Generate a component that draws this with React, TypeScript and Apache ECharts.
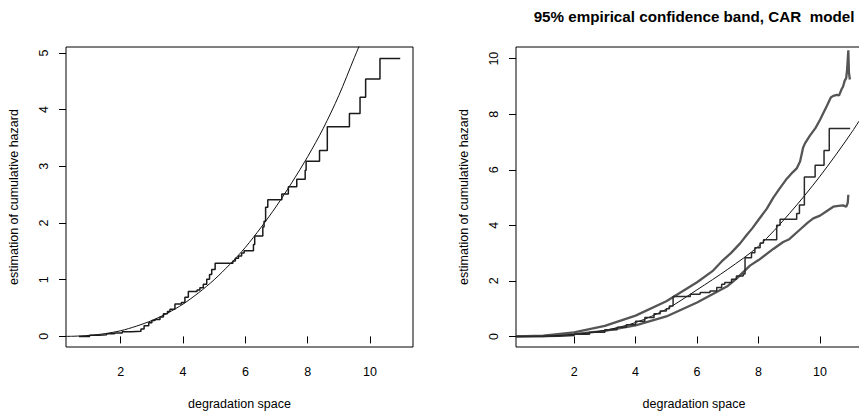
import React, { useEffect, useRef } from "react";
import * as echarts from "echarts";

// ---------- data ----------
// Left panel: empirical cumulative hazard (step function, jump points)
const leftStepX = [0.66, 1.0, 1.3, 1.55, 1.8, 2.05, 2.35, 2.65, 2.75, 2.9, 3.0, 3.1, 3.26, 3.37, 3.5, 3.58, 3.74, 3.95, 4.06, 4.17, 4.45, 4.54, 4.65, 4.76, 4.85, 4.92, 5.03, 5.6, 5.68, 5.78, 5.88, 5.96, 6.26, 6.3, 6.56, 6.6, 6.65, 6.72, 7.17, 7.38, 7.65, 7.92, 7.95, 8.38, 8.63, 9.34, 9.68, 9.86, 10.32, 10.97];
const leftStepY = [0, 0.02, 0.03, 0.045, 0.06, 0.08, 0.09, 0.13, 0.19, 0.24, 0.28, 0.3, 0.34, 0.4, 0.44, 0.48, 0.57, 0.6, 0.69, 0.79, 0.82, 0.86, 0.92, 1.01, 1.09, 1.18, 1.29, 1.33, 1.38, 1.42, 1.47, 1.51, 1.62, 1.77, 1.93, 2.03, 2.28, 2.41, 2.51, 2.64, 2.77, 2.93, 3.09, 3.28, 3.7, 3.93, 4.22, 4.54, 4.9, 4.9];
// Left panel: fitted (smooth) cumulative hazard
const leftFitX = [0.24, 0.5, 1, 1.5, 2, 2.5, 3, 3.5, 4, 4.5, 5, 5.5, 6, 6.5, 7, 7.5, 8, 8.5, 9, 9.5, 9.75];
const leftFitY = [0.0005, 0.003, 0.018, 0.049, 0.1, 0.18, 0.28, 0.41, 0.57, 0.77, 1.0, 1.27, 1.57, 1.92, 2.3, 2.72, 3.17, 3.67, 4.25, 4.92, 5.25];

// Right panel: empirical cumulative hazard (step function)
const rightStepX = [0.11, 1, 1.5, 2, 2.5, 3, 3.4, 3.7, 4, 4.3, 4.6, 4.8, 5.0, 5.1, 5.22, 5.78, 6.1, 6.42, 6.64, 6.8, 6.9, 7.12, 7.28, 7.5, 7.56, 7.77, 7.88, 8.05, 8.16, 8.59, 8.7, 9.24, 9.33, 9.49, 9.84, 10.13, 10.3, 10.98];
const rightStepY = [0, 0.01, 0.03, 0.08, 0.15, 0.24, 0.33, 0.42, 0.55, 0.68, 0.82, 0.92, 1.0, 1.1, 1.44, 1.52, 1.58, 1.64, 1.76, 1.88, 1.94, 2.06, 2.18, 2.25, 2.83, 3.01, 3.19, 3.36, 3.48, 4.0, 4.22, 4.43, 4.73, 5.74, 6.16, 6.69, 7.49, 7.49];
// Right panel: fitted curve
const rightFitX = [0.11, 1, 2, 3, 4, 5, 6, 7, 8, 9, 10, 11, 11.7];
const rightFitY = [0, 0.01, 0.07, 0.22, 0.5, 0.98, 1.68, 2.42, 3.25, 4.42, 5.77, 7.3, 8.5];
// Right panel: 95% band, upper and lower
const upperX = [0.11, 1, 2, 3, 4, 5, 6, 6.5, 6.8, 7.1, 7.4, 7.62, 7.8, 8.0, 8.27, 8.48, 8.7, 8.92, 9.1, 9.24, 9.35, 9.45, 9.51, 9.67, 9.85, 10.0, 10.22, 10.35, 10.43, 10.55, 10.62, 10.7, 10.75, 10.8, 10.85, 10.88, 10.92, 10.94, 10.97];
const upperY = [0, 0.03, 0.15, 0.38, 0.75, 1.27, 1.95, 2.35, 2.7, 3.0, 3.35, 3.66, 3.9, 4.2, 4.6, 5.0, 5.35, 5.68, 5.9, 6.05, 6.3, 6.8, 6.95, 7.23, 7.5, 7.8, 8.3, 8.6, 8.66, 8.7, 8.68, 8.9, 9.0, 9.2, 9.3, 9.6, 10.3, 9.5, 9.25];
const lowerX = [0.11, 1, 2, 3, 4, 5, 6, 7, 7.3, 7.72, 8.0, 8.48, 8.8, 9.0, 9.35, 9.6, 9.78, 10.0, 10.2, 10.43, 10.6, 10.75, 10.85, 10.9, 10.92];
const lowerY = [0, 0.01, 0.08, 0.2, 0.4, 0.72, 1.22, 1.82, 2.1, 2.55, 2.75, 3.15, 3.4, 3.5, 3.85, 4.1, 4.25, 4.35, 4.5, 4.67, 4.7, 4.72, 4.67, 4.8, 5.1];

const xTicks = [2, 4, 6, 8, 10];
const leftYTicks = [0, 1, 2, 3, 4, 5];
const rightYTicks = [0, 2, 4, 6, 8, 10];

const titleText = "95% empirical confidence band, CAR  model";
const xName = "degradation space";
const yName = "estimation of cumulative hazard";

const pairs = (xs: number[], ys: number[]) => xs.map((x, i) => [x, ys[i]]);

const FONT = "Liberation Sans, Arial, Helvetica, sans-serif";

export default function App() {
  const ref = useRef<HTMLDivElement>(null);
  useEffect(() => {
    if (!ref.current) return;
    const chart = echarts.init(ref.current, undefined, { renderer: "svg" });

    const xAxisBase = (gridIndex: number, min: number, max: number) => ({
      type: "value",
      gridIndex,
      min,
      max,
      name: xName,
      nameLocation: "middle",
      nameGap: 50,
      nameTextStyle: { fontFamily: FONT, fontSize: 12.5, color: "#000" },
      axisLine: { show: false },
      axisTick: { show: true, length: 7, customValues: xTicks, lineStyle: { color: "#000", width: 1 } },
      axisLabel: { customValues: xTicks, margin: 18, fontFamily: FONT, fontSize: 12.5, color: "#000" },
      splitLine: { show: false },
    });
    const yAxisBase = (gridIndex: number, min: number, max: number, ticks: number[]) => ({
      type: "value",
      gridIndex,
      min,
      max,
      name: yName,
      nameLocation: "middle",
      nameGap: 46,
      nameTextStyle: { fontFamily: FONT, fontSize: 12.5, color: "#000" },
      axisLine: { show: false },
      axisTick: { show: true, length: 7, customValues: ticks, lineStyle: { color: "#000", width: 1 } },
      axisLabel: { customValues: ticks, rotate: 90, margin: 16, fontFamily: FONT, fontSize: 12.5, color: "#000" },
      splitLine: { show: false },
    });

    chart.setOption({
      animation: false,
      backgroundColor: "#fff",
      title: {
        text: titleText,
        left: 694,
        top: 9,
        padding: 0,
        textAlign: "center",
        textStyle: { fontFamily: FONT, fontSize: 15.2, fontWeight: "bold", color: "#000" },
      },
      grid: [
        { left: 66, top: 47, width: 347, height: 303, show: true, borderColor: "#000", borderWidth: 1, backgroundColor: "transparent" },
        { left: 516, top: 47, width: 356, height: 303, show: true, borderColor: "#000", borderWidth: 1, backgroundColor: "transparent" },
      ],
      xAxis: [xAxisBase(0, 0.244, 11.38), xAxisBase(1, 0.11, 11.69)],
      yAxis: [yAxisBase(0, -0.187, 5.105, leftYTicks), yAxisBase(1, -0.38, 10.42, rightYTicks)],
      series: [
        {
          type: "line", xAxisIndex: 0, yAxisIndex: 0, data: pairs(leftFitX, leftFitY),
          smooth: 0.3, showSymbol: false, lineStyle: { color: "#111", width: 1 }, clip: true,
        },
        {
          type: "line", xAxisIndex: 0, yAxisIndex: 0, data: pairs(leftStepX, leftStepY),
          step: "end", showSymbol: false, lineStyle: { color: "#1a1a1a", width: 1.5 }, clip: true,
        },
        {
          type: "line", xAxisIndex: 1, yAxisIndex: 1, data: pairs(upperX, upperY),
          showSymbol: false, lineStyle: { color: "#555", width: 2.3 }, clip: true,
        },
        {
          type: "line", xAxisIndex: 1, yAxisIndex: 1, data: pairs(lowerX, lowerY),
          showSymbol: false, lineStyle: { color: "#555", width: 2.3 }, clip: true,
        },
        {
          type: "line", xAxisIndex: 1, yAxisIndex: 1, data: pairs(rightFitX, rightFitY),
          smooth: 0.3, showSymbol: false, lineStyle: { color: "#111", width: 1 }, clip: true,
        },
        {
          type: "line", xAxisIndex: 1, yAxisIndex: 1, data: pairs(rightStepX, rightStepY),
          step: "end", showSymbol: false, lineStyle: { color: "#2a2a2a", width: 1.5 }, clip: true,
        },
      ],
    });
    return () => chart.dispose();
  }, []);
  return (
    <div style={{ position: "absolute", left: 0, top: 0, width: 859, height: 415, overflow: "hidden" }}>
      <div ref={ref} style={{ width: 880, height: 415 }} />
    </div>
  );
}
